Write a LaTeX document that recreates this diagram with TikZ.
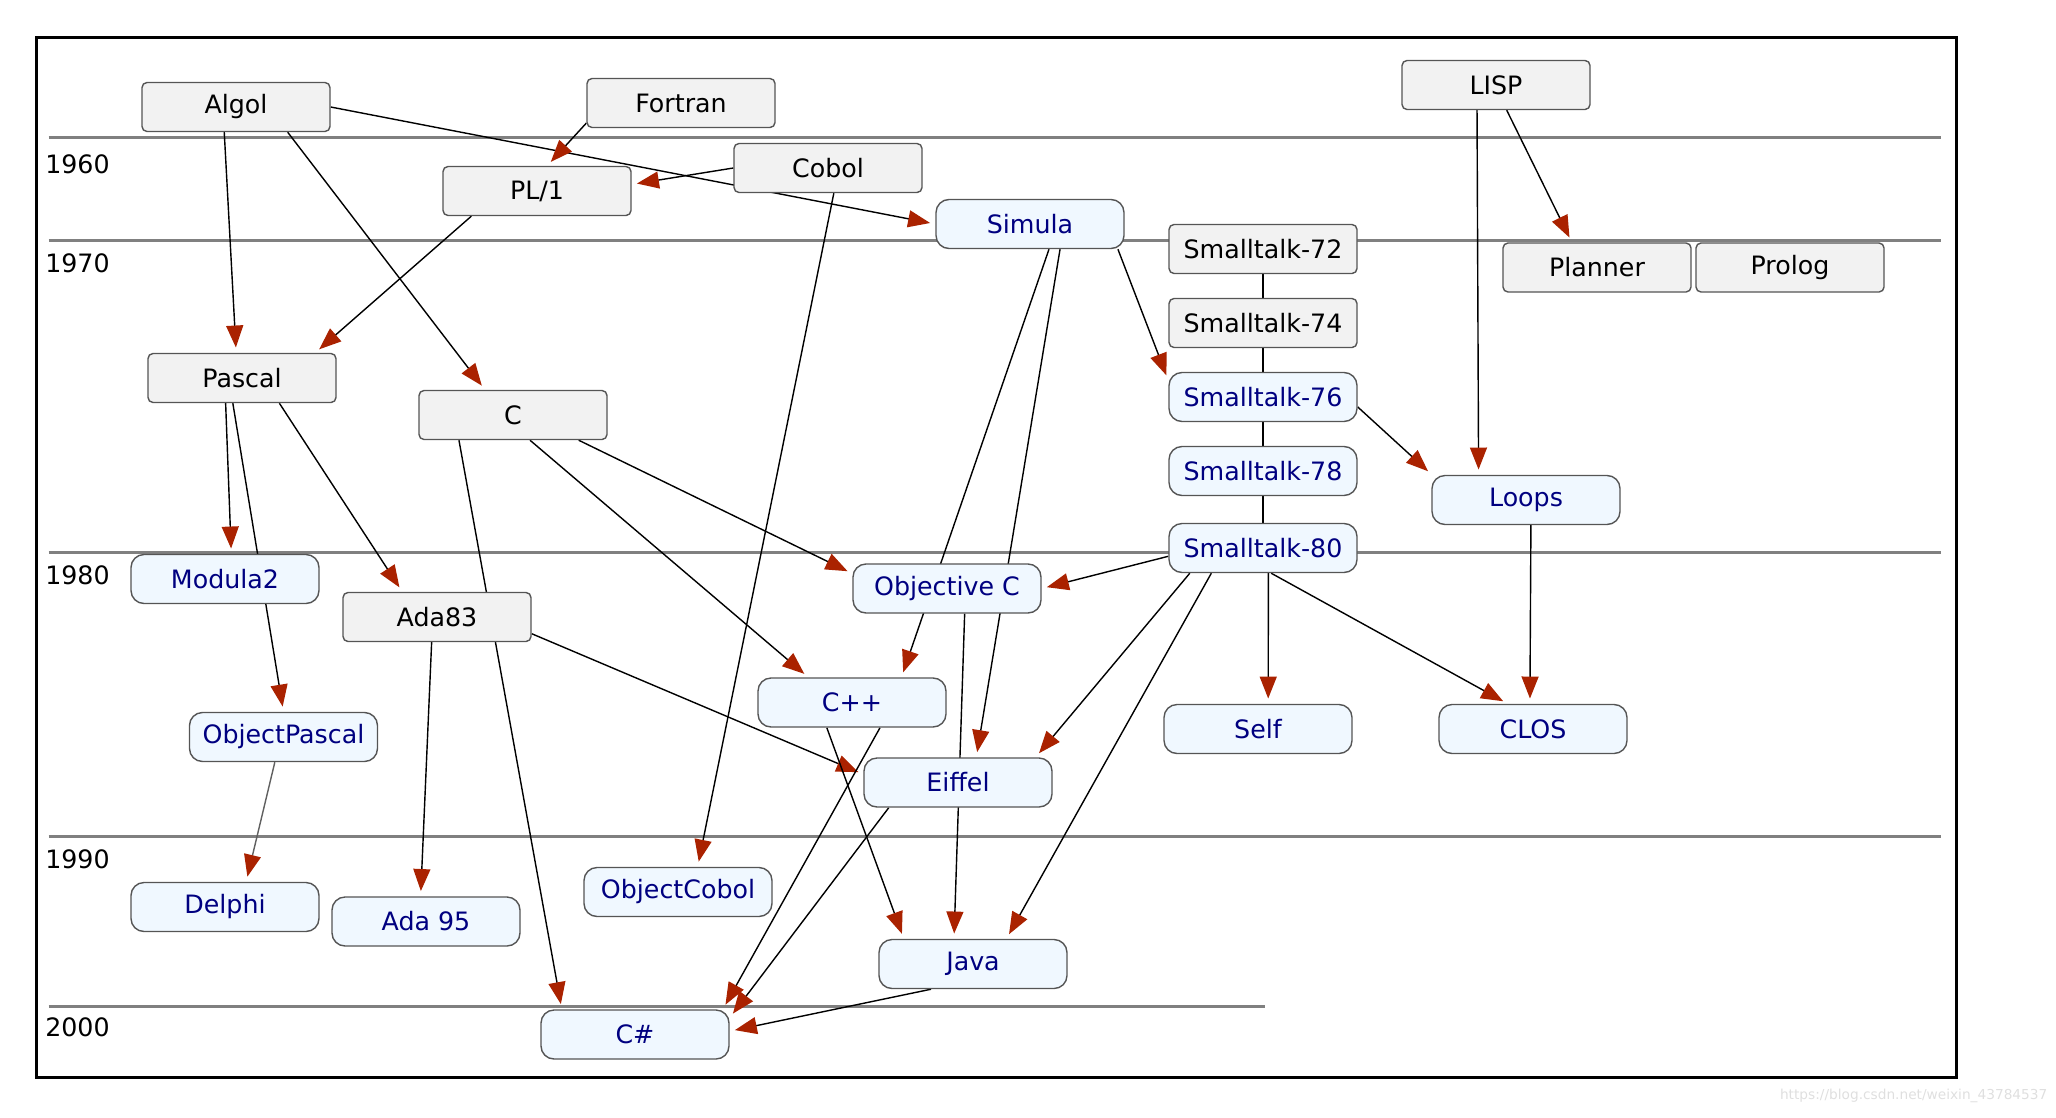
\documentclass[tikz,border=0pt]{standalone}
\usepackage{fontspec}
\setmainfont{DejaVu Sans}
\usetikzlibrary{arrows.meta, backgrounds}

\definecolor{boxgray}{RGB}{242,242,242}
\definecolor{boxblue}{RGB}{240,248,255}
\definecolor{boxline}{RGB}{85,85,85}
\definecolor{arrowred}{RGB}{170,34,0}
\definecolor{langblue}{RGB}{0,0,128}

\begin{document}
\begin{tikzpicture}[
        font=\fontsize{7.2}{8.6}\selectfont,
        lang/.style={draw=boxline, line width=0.4pt, rectangle, minimum width=1.88cm, minimum height=0.49cm, inner sep=0pt},
        oldlang/.style={lang, fill=boxgray, rounded corners=0.5mm},
        ooplang/.style={lang, fill=boxblue, text=langblue, rounded corners=1.3mm},
        influence/.style={line width=0.4pt, -{Triangle[length=2.2mm, width=1.7mm, color=arrowred]}, shorten >=1.5pt},
        lineage/.style={line width=0.4pt},
        yearline/.style={draw=gray, line width=0.85pt}
    ]
        \useasboundingbox (0,0) rectangle (20.56,-11.17);

        % Outer frame
        \draw[line width=0.85pt] (0.364,-0.375) rectangle (19.569,-10.774);

        % Languages before 1960
        \node[oldlang] (Algol) at (2.36,-1.07) {Algol};
        \node[oldlang] (Fortran) at (6.81,-1.03) {Fortran};
        \node[oldlang] (LISP) at (14.96,-0.85) {LISP};

        % 1960s
        \node[oldlang] (PL1) at (5.37,-1.91) {PL/1};
        \node[oldlang] (Cobol) at (8.28,-1.68) {Cobol};
        \node[ooplang] (Simula) at (10.30,-2.24) {Simula};

        % 1970s
        \node[oldlang] (Planner) at (15.97,-2.675) {Planner};
        \node[oldlang] (Prolog) at (17.90,-2.675) {Prolog};
        \node[oldlang] (Pascal) at (2.42,-3.78) {Pascal};
        \node[oldlang] (C) at (5.13,-4.15) {C};
        \node[ooplang] (Loops) at (15.26,-5.00) {Loops};

        % Smalltalk versions, one under the other
        \foreach \v/\y in {72/2.49, 74/3.23}
            \node[oldlang] (Smalltalk-\v) at (12.63,-\y) {Smalltalk-\v};
        \foreach \v/\y in {76/3.97, 78/4.71, 80/5.48}
            \node[ooplang] (Smalltalk-\v) at (12.63,-\y) {Smalltalk-\v};

        % 1980s
        \node[ooplang] (Modula2) at (2.25,-5.79) {Modula2};
        \node[ooplang] (ObjC) at (9.47,-5.885) {Objective C};
        \node[oldlang] (Ada83) at (4.37,-6.17) {Ada83};
        \node[ooplang] (Cpp) at (8.52,-7.025) {C++};
        \node[ooplang] (ObjPascal) at (2.835,-7.37) {ObjectPascal};
        \node[ooplang] (Self) at (12.58,-7.29) {Self};
        \node[ooplang] (CLOS) at (15.33,-7.29) {CLOS};
        \node[ooplang] (Eiffel) at (9.58,-7.825) {Eiffel};

        % 1990s and later
        \node[ooplang] (Delphi) at (2.25,-9.07) {Delphi};
        \node[ooplang] (Ada95) at (4.26,-9.215) {Ada 95};
        \node[ooplang] (ObjCobol) at (6.78,-8.92) {ObjectCobol};
        \node[ooplang] (Java) at (9.73,-9.64) {Java};
        \node[ooplang] (CSharp) at (6.35,-10.345) {C\#};

        % Decade rulers with their years
        \foreach \yr/\y/\ly in {1960/1.375/1.643, 1970/2.404/2.632, 1980/5.527/5.757, 1990/8.367/8.591} {
            \node[anchor=west, inner sep=0pt] (Y-\yr) at (0.446,-\ly) {\yr};
        }
        \node[anchor=west, inner sep=0pt] (Y-2000) at (0.446,-10.277) {2000};

        \node[anchor=east, inner sep=0pt, text=gray!25, font=\fontsize{3.9}{4.7}\selectfont] (Watermark) at (20.48,-10.96) {https://blog.csdn.net/weixin\_43784537};

        \begin{scope}[on background layer]
            \foreach \y in {1.375, 2.404, 5.527, 8.367}
                \draw[yearline] (0.485,-\y) -- (19.414,-\y);
            \draw[yearline] (0.485,-10.067) -- (12.653,-10.067);

            % Smalltalk line
            \foreach \a/\b in {72/74, 74/76, 76/78, 78/80}
                \draw[lineage] (Smalltalk-\a) -- (Smalltalk-\b);

            % Influences
            \draw[influence] (Algol.-115) -- (Pascal.103);
            \draw[influence] (Algol.-26) -- (C.138);
            \draw[influence] (Algol.east) -- (Simula.west);
            \draw[influence] (Fortran.-168) -- (PL1.68);
            \draw[influence] (Cobol.west) -- (PL1.4);
            \draw[influence] (PL1.-159) -- (Pascal.19);
            \draw[influence] (Cobol.-77) -- (ObjCobol.52);
            \draw[influence] (LISP.-127) -- (Loops.152);
            \draw[influence] (LISP.-67) -- (Planner.135);
            \draw[influence] (Simula.-16) -- (Smalltalk-76.170);
            \draw[influence] (Simula.-53) -- (Cpp.27);
            \draw[influence] (Simula.-40) -- (Eiffel.54);
            \draw[influence] (Smalltalk-76.-6) -- (Loops.165);
            \draw[influence] (Loops.-79) -- (CLOS.97);
            \draw[influence] (Smalltalk-80.-175) -- (ObjC.east);
            \draw[influence] (Smalltalk-80.-161) -- (Eiffel.18);
            \draw[influence] (Smalltalk-80.-154) -- (Java.37);
            \draw[influence] (Smalltalk-80.-78) -- (Self.68);
            \draw[influence] (Smalltalk-80.-72) -- (CLOS.135);
            \draw[influence] (C.-21) -- (ObjC.171);
            \draw[influence] (C.-56) -- (Cpp.150);
            \draw[influence] (C.-155) -- (CSharp.161);
            \draw[influence] (Pascal.-123) -- (Modula2.76);
            \draw[influence] (Pascal.-110) -- (ObjPascal.north);
            \draw[influence] (Pascal.-34) -- (Ada83.144);
            \draw[influence, draw=gray!75!black] (ObjPascal.-109) -- (Delphi.50);
            \draw[influence] (Ada83.-102) -- (Ada95.102);
            \draw[influence] (Ada83.-10) -- (Eiffel.175);
            \draw[influence] (Cpp.-135) -- (Java.160);
            \draw[influence] (Cpp.-42) -- (CSharp.16);
            \draw[influence] (Eiffel.-160) -- (CSharp.10);
            \draw[influence] (ObjC.-55) -- (Java.127);
            \draw[influence] (Java.-149) -- (CSharp.2);
        \end{scope}
    \end{tikzpicture}
\end{document}
